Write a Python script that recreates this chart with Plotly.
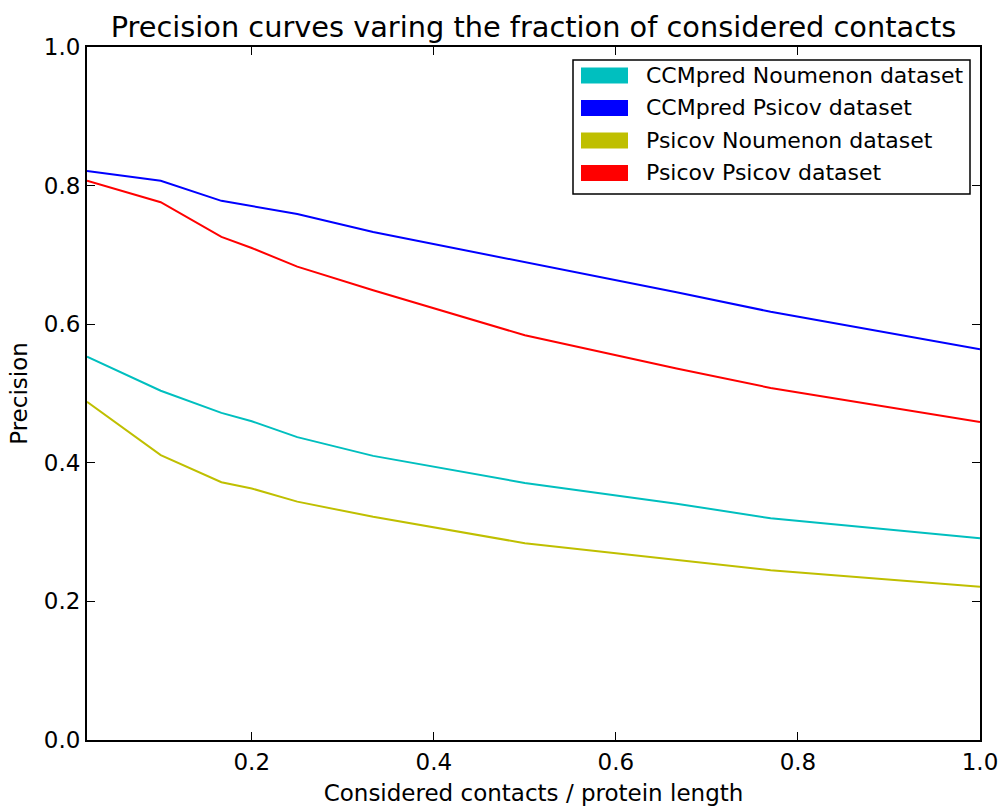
import plotly.graph_objects as go

x_frac = [0.019, 0.1, 1/6, 0.2, 0.25, 1/3, 0.5, 2/3, 0.77, 1.0]

ccmpred_noumenon = [0.553, 0.504, 0.472, 0.460, 0.437, 0.410, 0.371, 0.341, 0.320, 0.291]
ccmpred_psicov = [0.821, 0.807, 0.778, 0.770, 0.759, 0.733, 0.690, 0.646, 0.618, 0.564]
psicov_noumenon = [0.488, 0.411, 0.372, 0.363, 0.344, 0.322, 0.284, 0.260, 0.245, 0.221]
psicov_psicov = [0.807, 0.776, 0.726, 0.710, 0.683, 0.649, 0.584, 0.536, 0.508, 0.459]

series_names = ["CCMpred Noumenon dataset", "CCMpred Psicov dataset",
                "Psicov Noumenon dataset", "Psicov Psicov dataset"]
series_values = [ccmpred_noumenon, ccmpred_psicov, psicov_noumenon, psicov_psicov]
series_colors = ["#00BFBF", "#0000FF", "#BFBF00", "#FF0000"]

x_ticks = [0.2, 0.4, 0.6, 0.8, 1.0]
y_ticks = [0.0, 0.2, 0.4, 0.6, 0.8, 1.0]

FONT = "DejaVu Sans"
W, H = 1003, 806
L, R, T, B = 87, 23, 47, 66
PW, PH = W - L - R, H - T - B

fig = go.Figure()
for name, vals, color in zip(series_names, series_values, series_colors):
    fig.add_trace(go.Scatter(x=x_frac, y=vals, mode="lines", name=name,
                             line=dict(color=color, width=2), showlegend=False))

axis_common = dict(showline=True, linecolor="black", linewidth=2, mirror="ticks",
                   ticks="inside", ticklen=8, tickwidth=1, tickcolor="black",
                   showgrid=False, zeroline=False, automargin=False,
                   tickfont=dict(family=FONT, size=23, color="black"))

fig.update_xaxes(range=[x_frac[0], 1.0], tickvals=x_ticks,
                 ticktext=[f"{v:.1f}" for v in x_ticks],
                 title=dict(text="Considered contacts / protein length",
                            font=dict(family=FONT, size=23, color="black")),
                 **axis_common)
fig.update_yaxes(range=[0, 1.0], tickvals=y_ticks,
                 ticktext=[f"{v:.1f}" for v in y_ticks],
                 title=dict(text="Precision", standoff=10,
                            font=dict(family=FONT, size=23, color="black")),
                 **axis_common)

# matplotlib-style legend with rectangular colour patches
def px_x(p):
    return (p - L) / PW

def px_y(p):
    return (H - B - p) / PH

shapes = [dict(type="rect", xref="paper", yref="paper",
               x0=px_x(573), x1=px_x(970), y0=px_y(194), y1=px_y(60),
               line=dict(color="black", width=1.5), fillcolor="white", layer="above")]
annotations = []
row_y = [75.5, 108, 140.5, 173]
for name, color, ry in zip(series_names, series_colors, row_y):
    shapes.append(dict(type="rect", xref="paper", yref="paper",
                       x0=px_x(581), x1=px_x(628), y0=px_y(ry + 8), y1=px_y(ry - 8),
                       line=dict(width=0), fillcolor=color, layer="above"))
    annotations.append(dict(text=name, xref="paper", yref="paper",
                            x=px_x(644), y=px_y(ry), xanchor="left", yanchor="middle",
                            showarrow=False,
                            font=dict(family=FONT, size=22, color="black")))

fig.update_layout(
    width=W, height=H,
    margin=dict(l=L, r=R, t=T, b=B, pad=0),
    paper_bgcolor="white", plot_bgcolor="white",
    title=dict(text="Precision curves varing the fraction of considered contacts",
               font=dict(family=FONT, size=28.8, color="black"),
               x=0.5, xref="paper", y=1 - 27/806, yref="container", yanchor="middle"),
    showlegend=False,
    shapes=shapes,
    annotations=annotations,
)

fig.write_html("out.html", config={"displayModeBar": False},
               post_script="document.body.style.margin='0';")
